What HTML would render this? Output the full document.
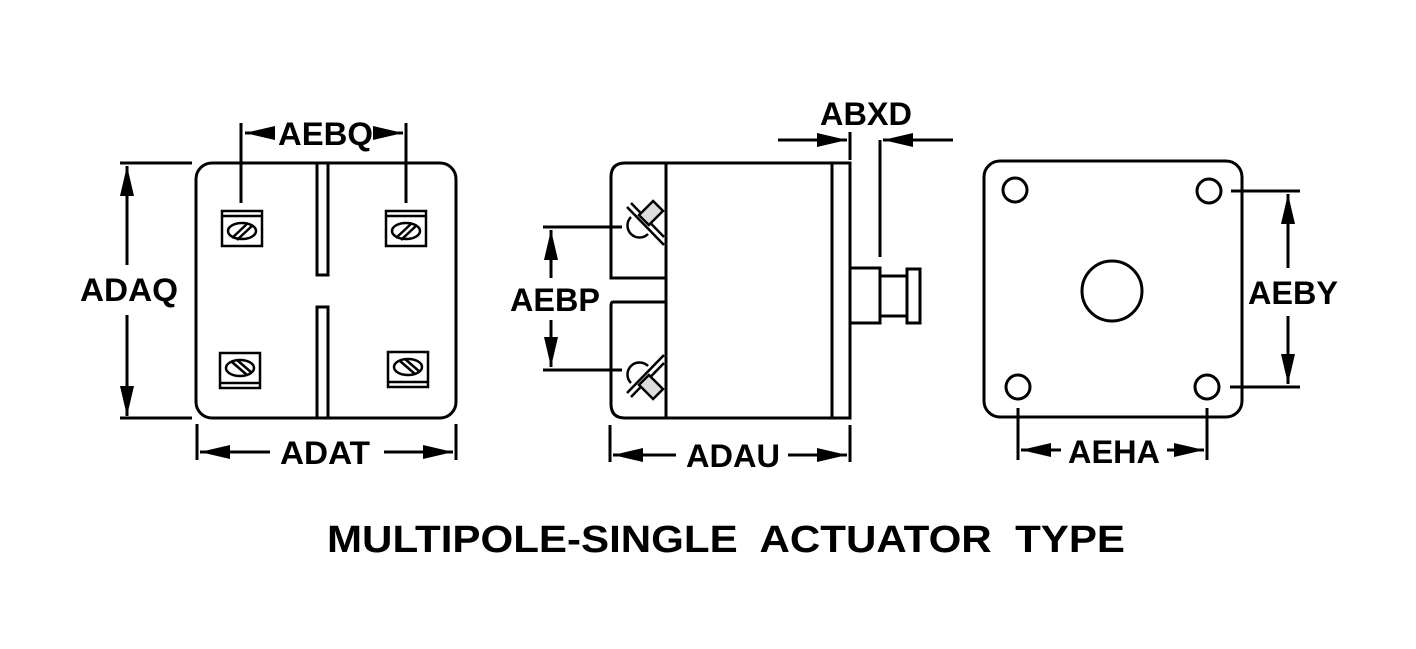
<!DOCTYPE html>
<html><head><style>body{margin:0;background:#fff}svg{display:block}text{font-family:"Liberation Sans",sans-serif;font-weight:bold;fill:#000}</style></head>
<body>
<svg width="1416" height="649" viewBox="0 0 1416 649" xmlns="http://www.w3.org/2000/svg">
<defs>
<marker id="a" viewBox="0 0 30 14" refX="30" refY="7" markerWidth="30" markerHeight="14" markerUnits="userSpaceOnUse" orient="auto"><path d="M0,0 L30,7 L0,14 z" fill="#000"/></marker>
</defs>
<g fill="none" stroke="#000" stroke-width="3">
<rect x="196" y="163" width="260" height="255" rx="16"/>
<rect x="317" y="163" width="11" height="112" fill="#fff"/>
<rect x="317" y="307" width="11" height="111" fill="#fff"/>
<g stroke-width="2.5">
<rect x="222" y="211" width="40" height="35"/><line x1="222" y1="216" x2="262" y2="216"/>
<ellipse cx="242" cy="231" rx="14" ry="8"/><line x1="232" y1="238" x2="248" y2="223"/><line x1="237" y1="240" x2="253" y2="225"/>
<rect x="386" y="211" width="40" height="35"/><line x1="386" y1="216" x2="426" y2="216"/>
<ellipse cx="406" cy="231" rx="14" ry="8"/><line x1="396" y1="238" x2="412" y2="223"/><line x1="401" y1="240" x2="417" y2="225"/>
<rect x="220" y="353" width="40" height="35"/><line x1="220" y1="383" x2="260" y2="383"/>
<ellipse cx="240" cy="368" rx="14" ry="8"/><line x1="232" y1="362" x2="247" y2="375"/><line x1="237" y1="360" x2="252" y2="373"/>
<rect x="388" y="352" width="40" height="35"/><line x1="388" y1="382" x2="428" y2="382"/>
<ellipse cx="408" cy="367" rx="14" ry="8"/><line x1="400" y1="361" x2="415" y2="374"/><line x1="405" y1="359" x2="420" y2="372"/>
</g>
<line x1="241" y1="123" x2="241" y2="203"/><line x1="406" y1="123" x2="406" y2="203"/>
<line x1="272" y1="133" x2="245" y2="133" marker-end="url(#a)"/>
<line x1="377" y1="133" x2="403" y2="133" marker-end="url(#a)"/>
<line x1="120" y1="163" x2="192" y2="163"/><line x1="120" y1="418" x2="192" y2="418"/>
<line x1="127" y1="265" x2="127" y2="166" marker-end="url(#a)"/>
<line x1="127" y1="315" x2="127" y2="416" marker-end="url(#a)"/>
<line x1="197" y1="424" x2="197" y2="460"/><line x1="456" y1="424" x2="456" y2="460"/>
<line x1="270" y1="452" x2="200" y2="452" marker-end="url(#a)"/>
<line x1="384" y1="452" x2="453" y2="452" marker-end="url(#a)"/>

<path d="M666,163 L625,163 Q611,163 611,177 L611,278 L666,278"/>
<path d="M666,302 L613,302 Q611,302 611,306 L611,404 Q611,418 625,418 L666,418"/>
<rect x="666" y="163" width="184" height="255"/>
<line x1="832" y1="163" x2="832" y2="418"/>
<rect x="850" y="268" width="30" height="55"/>
<rect x="880" y="276" width="27" height="40"/>
<rect x="907" y="269" width="13" height="54"/>
<g stroke-width="2.5">
<line x1="627" y1="207" x2="664" y2="245"/><line x1="631" y1="203" x2="664" y2="237"/>
<path d="M631,217 A12,12 0 0 0 648,234"/>
<rect x="644" y="203" width="14" height="20" fill="#ddd" transform="rotate(45 651 213)"/>
<line x1="627" y1="393" x2="664" y2="355"/><line x1="631" y1="397" x2="664" y2="363"/>
<path d="M631,383 A12,12 0 0 1 648,366"/>
<rect x="644" y="377" width="14" height="20" fill="#ddd" transform="rotate(-45 651 387)"/>
</g>
<line x1="850" y1="132" x2="850" y2="160"/><line x1="880" y1="140" x2="880" y2="257"/>
<line x1="778" y1="140" x2="847" y2="140" marker-end="url(#a)"/>
<line x1="953" y1="140" x2="883" y2="140" marker-end="url(#a)"/>
<line x1="543" y1="227" x2="622" y2="227"/><line x1="543" y1="370" x2="622" y2="370"/>
<line x1="551" y1="278" x2="551" y2="230" marker-end="url(#a)"/>
<line x1="551" y1="320" x2="551" y2="367" marker-end="url(#a)"/>
<line x1="610" y1="425" x2="610" y2="462"/><line x1="850" y1="425" x2="850" y2="462"/>
<line x1="676" y1="455" x2="613" y2="455" marker-end="url(#a)"/>
<line x1="788" y1="455" x2="847" y2="455" marker-end="url(#a)"/>

<rect x="984" y="161" width="258" height="256" rx="16"/>
<circle cx="1015" cy="190" r="12"/><circle cx="1209" cy="191" r="12"/>
<circle cx="1018" cy="387" r="12"/><circle cx="1207" cy="387" r="12"/>
<circle cx="1112" cy="291" r="30"/>
<line x1="1231" y1="191" x2="1300" y2="191"/><line x1="1230" y1="387" x2="1300" y2="387"/>
<line x1="1288" y1="268" x2="1288" y2="194" marker-end="url(#a)"/>
<line x1="1288" y1="316" x2="1288" y2="384" marker-end="url(#a)"/>
<line x1="1018" y1="408" x2="1018" y2="460"/><line x1="1207" y1="408" x2="1207" y2="460"/>
<line x1="1061" y1="450" x2="1021" y2="450" marker-end="url(#a)"/>
<line x1="1167" y1="450" x2="1204" y2="450" marker-end="url(#a)"/>
</g>
<g font-size="32" lengthAdjust="spacingAndGlyphs">
<text x="278" y="145" textLength="95" lengthAdjust="spacingAndGlyphs">AEBQ</text>
<text x="80" y="301" textLength="98" lengthAdjust="spacingAndGlyphs">ADAQ</text>
<text x="280" y="464" textLength="90" lengthAdjust="spacingAndGlyphs">ADAT</text>
<text x="820" y="125" textLength="92" lengthAdjust="spacingAndGlyphs">ABXD</text>
<text x="510" y="311" textLength="90" lengthAdjust="spacingAndGlyphs">AEBP</text>
<text x="686" y="467" textLength="94" lengthAdjust="spacingAndGlyphs">ADAU</text>
<text x="1248" y="304" textLength="90" lengthAdjust="spacingAndGlyphs">AEBY</text>
<text x="1068" y="463" textLength="92" lengthAdjust="spacingAndGlyphs">AEHA</text>
</g>
<text x="327" y="552" font-size="38" textLength="798" lengthAdjust="spacingAndGlyphs" xml:space="preserve">MULTIPOLE-SINGLE  ACTUATOR  TYPE</text>
</svg>
</body></html>
